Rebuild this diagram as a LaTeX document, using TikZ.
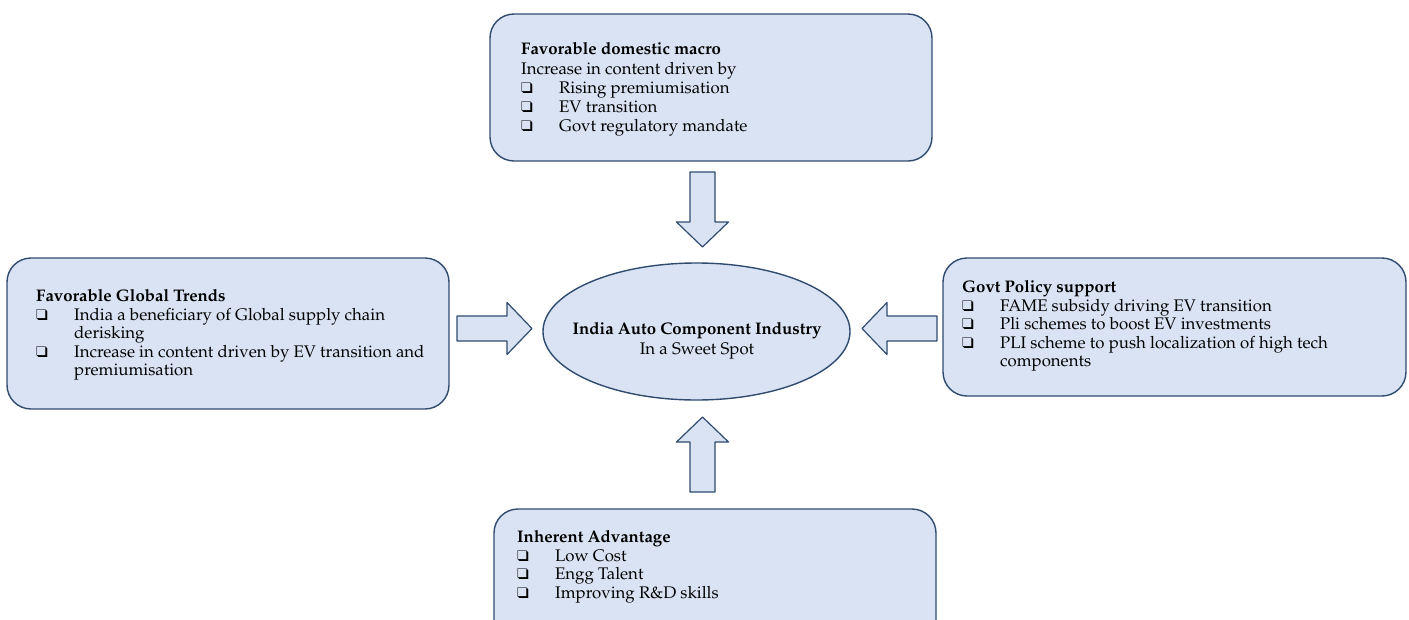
\documentclass[tikz,border=0pt]{standalone}
\usepackage[T1]{fontenc}
\usepackage{mathpazo}
\usepackage{pifont}
\usetikzlibrary{shapes.geometric}
\definecolor{boxfill}{HTML}{DAE3F3}
\definecolor{boxedge}{HTML}{2F4B6E}
% square bullet with shadow, then a fixed indent
\newcommand{\sqitem}{\makebox[38pt][l]{\raisebox{0.3pt}{\fontsize{15.5}{15.5}\selectfont\ding{113}}}}
\newcommand{\sqcont}{\hspace*{38pt}}

\begin{document}
\begin{tikzpicture}[
  x=1pt,
  y=-1pt,
  line join=round,
  panel/.style={draw=boxedge,fill=boxfill,line width=1.4pt,rounded corners=24pt,inner sep=0pt},
  hub/.style={draw=boxedge,fill=boxfill,line width=1.4pt,ellipse,inner sep=0pt,
    minimum width=307pt,minimum height=137pt},
  txt/.style={inner sep=0pt,align=left,anchor=north west,font=\fontsize{16.8}{18.5}\selectfont},
  bigarrow/.style={draw=boxedge,fill=boxfill,line width=1.2pt}
]
  \useasboundingbox (0,0) rectangle (1409,619);

  % Panels round the hub.
  \node[panel,minimum width=442pt,minimum height=147pt] (domBox) at (711,87.5) {};
  \node[panel,minimum width=442pt,minimum height=151pt] (globBox) at (228,333.5) {};
  \node[panel,minimum width=463pt,minimum height=138pt] (govBox) at (1174.5,327) {};
  \node[panel,minimum width=442pt,minimum height=150pt] (advBox) at (715,584) {};

  \node[hub] (hub) at (696.5,331.5) {};
  \node[inner sep=0pt,align=center,anchor=north,font=\fontsize{16.8}{20}\selectfont] (hubText)
    at (697,322.5) {\textbf{India Auto Component Industry}\\In a Sweet Spot};

  % Panel texts.
  \node[txt,font=\fontsize{16.8}{19.25}\selectfont] (domText) at (521,42.5)
    {\textbf{Favorable domestic macro}\\
     Increase in content driven by\\
     \sqitem Rising premiumisation\\
     \sqitem EV transition\\
     \sqitem Govt regulatory mandate};
  \node[txt] (globText) at (36,289.5)
    {\textbf{Favorable Global Trends}\\
     \sqitem India a beneficiary of Global supply chain\\
     \sqcont derisking\\
     \sqitem Increase in content driven by EV transition and\\
     \sqcont premiumisation};
  \node[txt] (govText) at (962,280.5)
    {\textbf{Govt Policy support}\\
     \sqitem FAME subsidy driving EV transition\\
     \sqitem Pli schemes to boost EV investments\\
     \sqitem PLI scheme to push localization of high tech\\
     \sqcont components};
  \node[txt] (advText) at (517,530.5)
    {\textbf{Inherent Advantage}\\
     \sqitem Low Cost\\
     \sqitem Engg Talent\\
     \sqitem Improving R\&D skills};

  % Block arrows pointing into the hub.
  \coordinate (tailTop) at (702.5,172);
  \coordinate (tailBottom) at (702.5,492);
  \coordinate (tailLeft) at (457,328.5);
  \coordinate (tailRight) at (937,328.5);
  \foreach \t/\a in {tailTop/-90,tailBottom/90,tailLeft/0,tailRight/180} {
    \draw[bigarrow,shift={(\t)},rotate=\a]
      (0,-12.5) -- (50,-12.5) -- (50,-26) -- (75,0) -- (50,26) -- (50,12.5) -- (0,12.5) -- cycle;
  }
\end{tikzpicture}
\end{document}
